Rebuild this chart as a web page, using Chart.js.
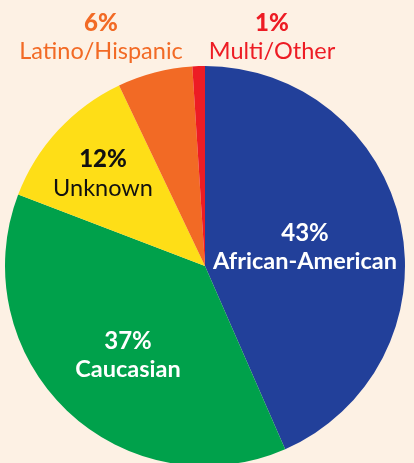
<!DOCTYPE html>
<html>
<head>
<meta charset="utf-8">
<script src="https://cdn.jsdelivr.net/npm/chart.js@4"></script>
<style>
html,body{margin:0;padding:0;width:414px;height:463px;overflow:hidden;background:#fdf1e4;}
#wrap{position:absolute;left:0;top:0;width:414px;height:470px;}
</style>
</head>
<body>
<div id="wrap"><canvas id="c" width="414" height="470"></canvas></div>
<script>
const categories = ["African-American", "Caucasian", "Unknown", "Latino/Hispanic", "Multi/Other"];
const values = [43, 37, 12, 6, 1];
const colors = ["#22409a", "#00a14b", "#fede17", "#f26a25", "#ed1c24"];

// label placement and styles
const labelPos = [
  {x: 305, yp: 233, yn: 261, pc: "#ffffff", nc: "#ffffff", pf: "bold 24px Lato", nf: "bold 23.5px Lato"},
  {x: 128, yp: 341, yn: 369, pc: "#ffffff", nc: "#ffffff", pf: "bold 24px Lato", nf: "bold 23.5px Lato"},
  {x: 103, yp: 159, yn: 188, pc: "#111111", nc: "#111111", pf: "900 24px Lato", nf: "23.5px Lato"},
  {x: 101, yp: 23, yn: 51, pc: "#f26a25", nc: "#f26a25", pf: "900 24px Lato", nf: "23.5px Lato"},
  {x: 272, yp: 23, yn: 51, pc: "#ed1c24", nc: "#ed1c24", pf: "900 24px Lato", nf: "23.5px Lato"}
];

const labelPlugin = {
  id: "labels",
  afterDraw(chart) {
    const ctx = chart.ctx;
    ctx.save();
    ctx.textAlign = "center";
    ctx.textBaseline = "middle";
    categories.forEach((name, i) => {
      const p = labelPos[i];
      ctx.font = p.pf; ctx.fillStyle = p.pc;
      ctx.fillText(values[i] + "%", p.x, p.yp);
      ctx.font = p.nf; ctx.fillStyle = p.nc;
      ctx.fillText(name, p.x, p.yn);
    });
    ctx.restore();
  }
};

new Chart(document.getElementById("c"), {
  type: "pie",
  data: {
    labels: categories,
    datasets: [{data: values, backgroundColor: colors, borderWidth: 0}]
  },
  options: {
    responsive: false,
    animation: false,
    layout: {padding: {left: 5, right: 9, top: 66, bottom: 4}},
    plugins: {legend: {display: false}, tooltip: {enabled: false}}
  },
  plugins: [labelPlugin]
});
</script>
</body>
</html>
